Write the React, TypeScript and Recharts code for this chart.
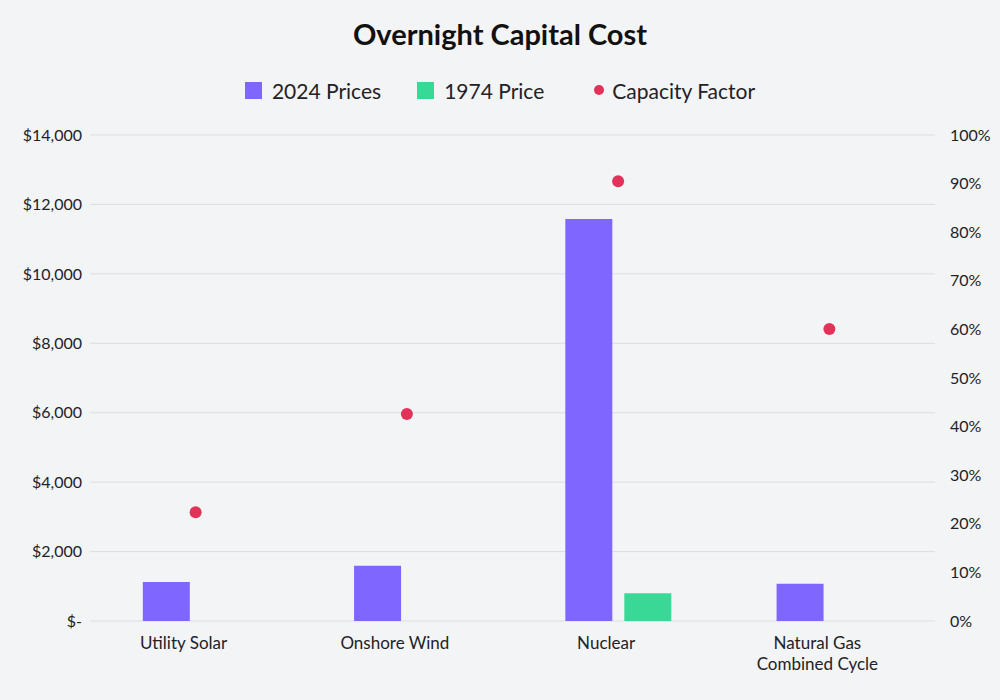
import React from "react";
import {
  ComposedChart,
  Bar,
  Scatter,
  XAxis,
  YAxis,
  CartesianGrid,
  Legend,
} from "recharts";

const categories = [
  "Utility Solar",
  "Onshore Wind",
  "Nuclear",
  "Natural Gas\nCombined Cycle",
];
const prices2024 = [1120, 1590, 11580, 1070];
const prices1974 = [null, null, 800, null];
const capacityFactor = [0.224, 0.426, 0.905, 0.601];

const seriesNames = ["2024 Prices", "1974 Price", "Capacity Factor"];

const costTicks = [0, 2000, 4000, 6000, 8000, 10000, 12000, 14000];
const factorTicks = [0, 0.1, 0.2, 0.3, 0.4, 0.5, 0.6, 0.7, 0.8, 0.9, 1];

const PURPLE = "#7f66ff";
const GREEN = "#3ad897";
const RED = "#e2325a";
const TEXT = "#222226";
const FONT = "Lato, 'Noto Sans', sans-serif";

const data = categories.map((name, i) => ({
  name,
  p2024: prices2024[i],
  p1974: prices1974[i],
  factor: capacityFactor[i],
}));

const formatCost = (v: number) => (v === 0 ? "$-" : `$${v.toLocaleString("en-US")}`);
const formatFactor = (v: number) => `${Math.round(v * 100)}%`;

// category labels sit a little left of the band centre and may wrap onto two lines
function CategoryTick({ x, y, payload }: any) {
  const lines = String(payload.value).split("\n");
  return (
    <text
      x={x - 12}
      y={y}
      textAnchor="middle"
      fill={TEXT}
      fontSize={17}
      fontFamily={FONT}
    >
      {lines.map((line, i) => (
        <tspan key={i} x={x - 12} dy={i === 0 ? 20 : 21}>
          {line}
        </tspan>
      ))}
    </text>
  );
}

function LegendRow({ payload }: any) {
  const items = [...(payload || [])].sort(
    (a: any, b: any) => seriesNames.indexOf(a.value) - seriesNames.indexOf(b.value)
  );
  return (
    <div style={{ height: 65 }}>
      <div
        style={{
          height: 40,
          display: "flex",
          justifyContent: "center",
          alignItems: "center",
          gap: 36,
          fontFamily: FONT,
          fontSize: 21,
          color: TEXT,
        }}
      >
        {items.map((entry: any) => (
          <div key={entry.value} style={{ display: "flex", alignItems: "center" }}>
            {entry.type === "circle" ? (
              <div style={{ width: 24, display: "flex", justifyContent: "flex-end" }}>
                <div
                  style={{ width: 10, height: 10, borderRadius: 5, background: entry.color }}
                />
              </div>
            ) : (
              <div style={{ width: 17, height: 17, background: entry.color }} />
            )}
            <span style={{ marginLeft: entry.type === "circle" ? 8 : 10 }}>{entry.value}</span>
          </div>
        ))}
      </div>
    </div>
  );
}

export default function App() {
  return (
    <div
      style={{
        position: "absolute",
        left: 0,
        top: 0,
        width: 1000,
        height: 700,
        background: "#f3f4f6",
        fontFamily: FONT,
      }}
    >
      <div
        style={{
          position: "absolute",
          top: 16,
          width: 1000,
          textAlign: "center",
          fontSize: 29,
          fontWeight: 700,
          color: "#111",
        }}
      >
        Overnight Capital Cost
      </div>
      <ComposedChart
        width={1000}
        height={700}
        data={data}
        margin={{ top: 70, right: 0, bottom: 19, left: 0 }}
        barCategoryGap="25%"
        barGap={12}
      >
        <CartesianGrid yAxisId="left" vertical={false} stroke="#dcdde2" strokeWidth={1} />
        <XAxis
          dataKey="name"
          axisLine={false}
          tickLine={false}
          height={60}
          interval={0}
          tick={<CategoryTick />}
        />
        <YAxis
          yAxisId="left"
          domain={[0, 14000]}
          ticks={costTicks}
          tickFormatter={formatCost}
          axisLine={false}
          tickLine={false}
          width={90}
          tick={{ fill: TEXT, fontSize: 16, fontFamily: FONT }}
        />
        <YAxis
          yAxisId="right"
          orientation="right"
          domain={[0, 1]}
          ticks={factorTicks}
          tickFormatter={formatFactor}
          axisLine={false}
          tickLine={false}
          width={65}
          tickMargin={9}
          tick={{ fill: TEXT, fontSize: 16, fontFamily: FONT, textAnchor: "start" }}
        />
        <Legend verticalAlign="top" content={<LegendRow />} />
        <Bar
          yAxisId="left"
          dataKey="p2024"
          name={seriesNames[0]}
          fill={PURPLE}
          legendType="square"
          isAnimationActive={false}
        />
        <Bar
          yAxisId="left"
          dataKey="p1974"
          name={seriesNames[1]}
          fill={GREEN}
          legendType="square"
          isAnimationActive={false}
        />
        <Scatter
          yAxisId="right"
          dataKey="factor"
          name={seriesNames[2]}
          fill={RED}
          legendType="circle"
          isAnimationActive={false}
          shape={(p: any) => <circle cx={p.cx} cy={p.cy} r={6} fill={RED} />}
        />
      </ComposedChart>
    </div>
  );
}
